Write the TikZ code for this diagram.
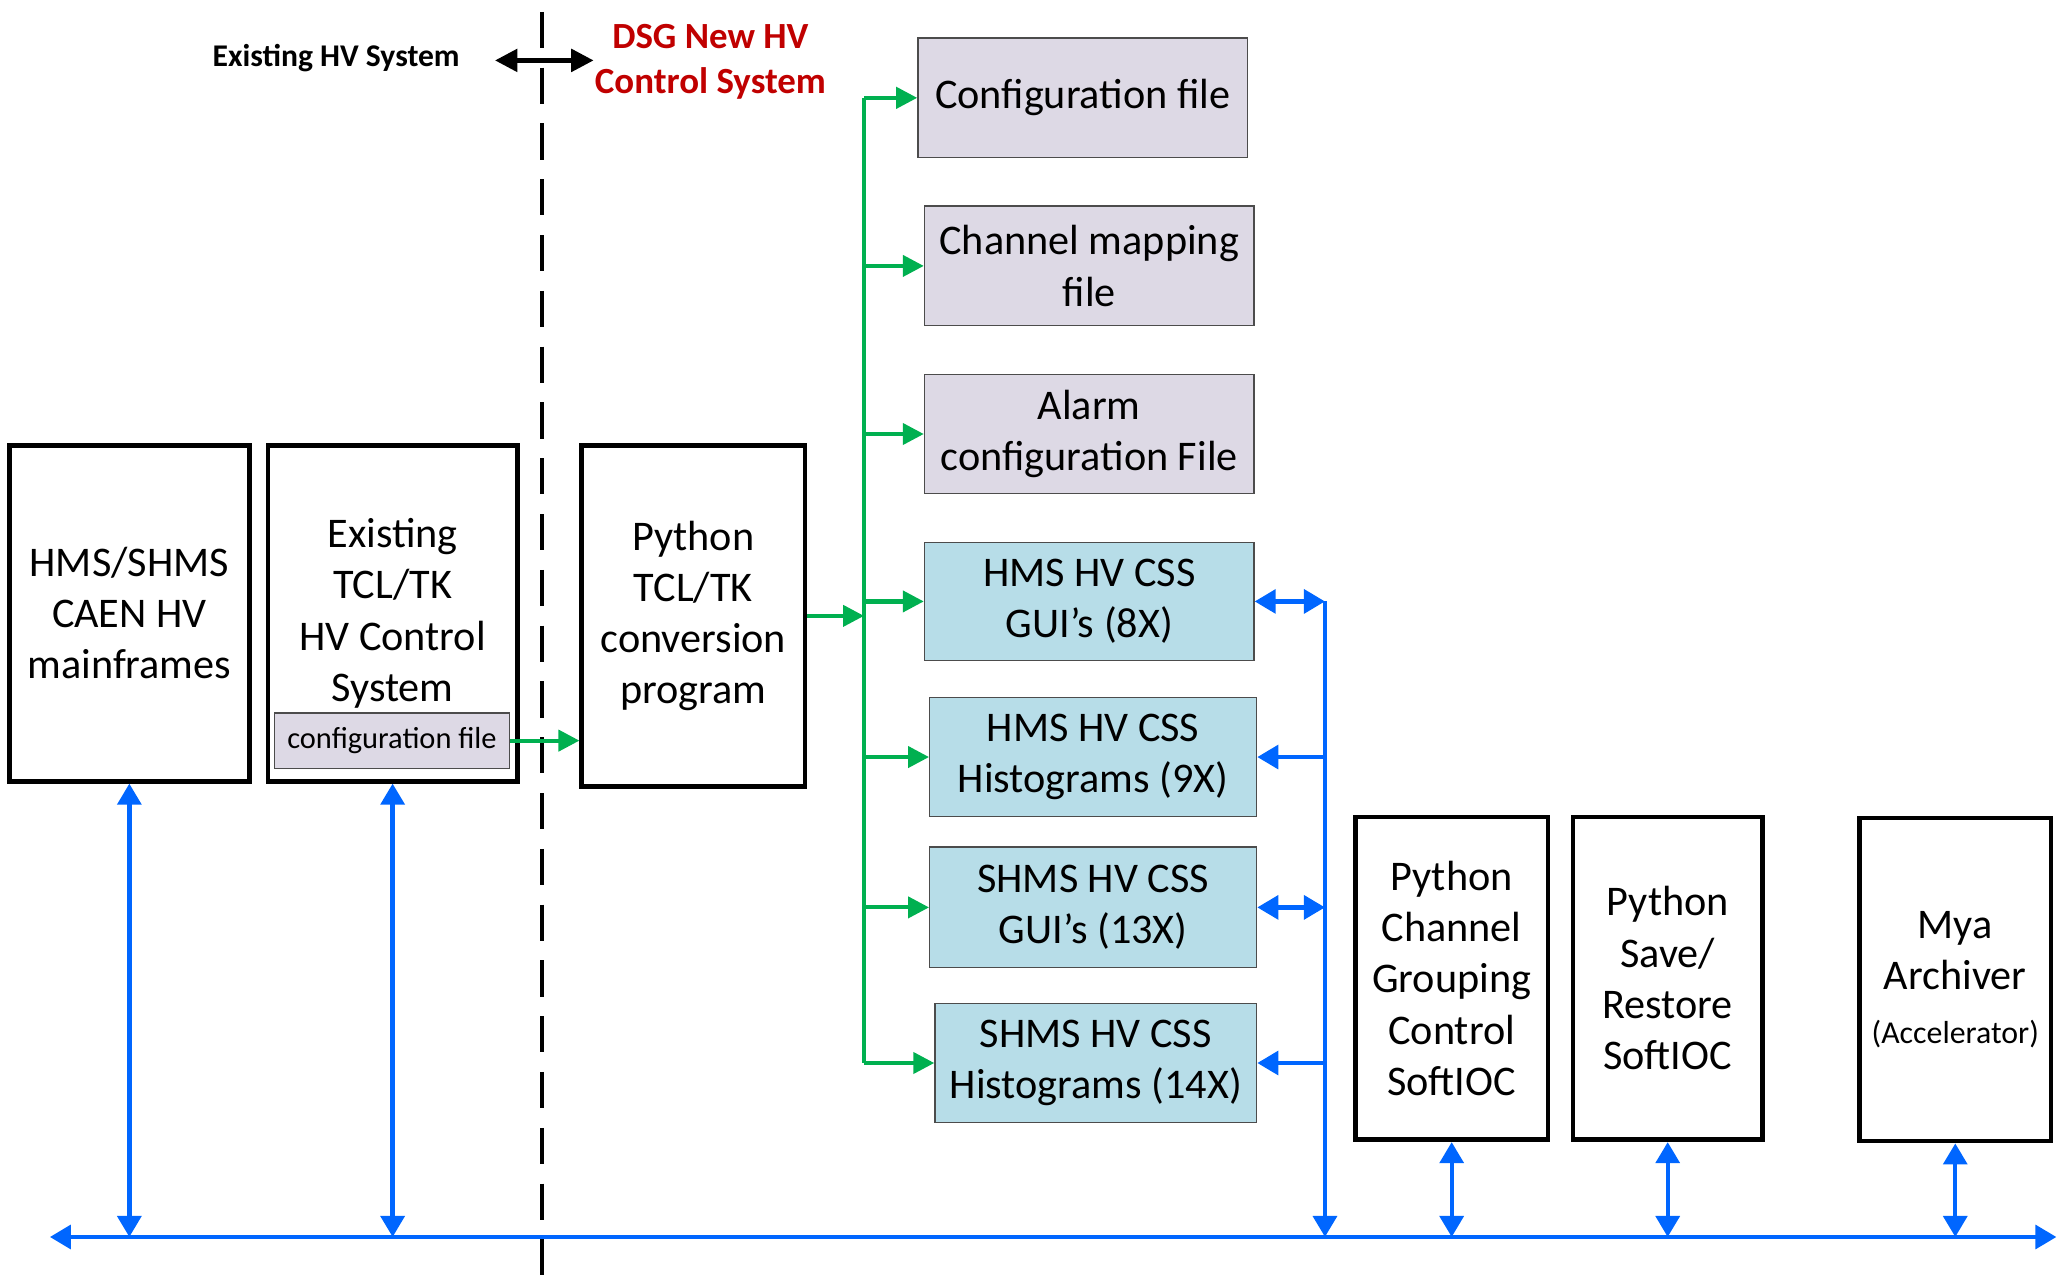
\documentclass[tikz,border=0pt]{standalone}
\usepackage{fontspec}
\setmainfont{Carlito}
\usetikzlibrary{arrows.meta}
\definecolor{filegray}{HTML}{DDD9E5}
\definecolor{cssblue}{HTML}{B7DDE8}
\definecolor{busblue}{HTML}{0066FF}
\definecolor{feedgreen}{HTML}{00B050}
\definecolor{dsgred}{HTML}{C00000}
\tikzset{
  sysbox/.style={draw, line width=2pt, align=center, inner sep=0pt},
  filebox/.style={draw=black!70, line width=0.6pt, fill=filegray, align=center, inner sep=0pt},
  cssbox/.style={filebox, fill=cssblue},
  feed/.style={feedgreen, line width=1.8pt, -{Triangle[length=0.32cm,width=0.32cm]}},
  busline/.style={busblue, line width=1.9pt},
  bustip/.style={busline, -{Triangle[length=0.32cm,width=0.36cm]}},
  bustips/.style={busline, {Triangle[length=0.32cm,width=0.36cm]}-{Triangle[length=0.32cm,width=0.36cm]}},
}
\begin{document}
\begin{tikzpicture}[x=0.02cm, y=-0.02cm,
    every node/.style={font=\fontsize{18.3}{22.2}\selectfont}]
      \useasboundingbox (0,0) rectangle (1568,975);
      \node[sysbox, minimum width=3.66cm, minimum height=5.12cm] (mainframe) at (98.5,467) {HMS/SHMS\\CAEN HV\\mainframes};
      \node[sysbox, minimum width=3.8cm, minimum height=5.12cm] (tcltk) at (299,467) {Existing\\TCL/TK\\HV Control\\System};
      \node[filebox, minimum width=3.58cm, minimum height=0.84cm, font=\fontsize{13.2}{16}\selectfont] (cfgold) at (298.5,564) {configuration file};
      \node[sysbox, minimum width=3.4cm, minimum height=5.2cm] (pyconv) at (528,469) {Python\\TCL/TK\\conversion\\program};
      \node[filebox, minimum width=5.02cm, minimum height=1.82cm] (cfgfile) at (824.5,74.5) {Configuration file};
      \node[filebox, minimum width=5.02cm, minimum height=1.82cm] (chmap) at (829.5,202.5) {Channel mapping\\file};
      \node[filebox, minimum width=5.02cm, minimum height=1.82cm] (alarm) at (829.5,330.5) {Alarm\\configuration File};
      \node[cssbox, minimum width=5.02cm, minimum height=1.8cm] (hmsgui) at (829.5,458) {HMS HV CSS\\GUI’s (8X)};
      \node[cssbox, minimum width=4.98cm, minimum height=1.82cm] (hmshist) at (832.5,576.5) {HMS HV CSS\\Histograms (9X)};
      \node[cssbox, minimum width=4.98cm, minimum height=1.84cm] (shmsgui) at (832.5,691) {SHMS HV CSS\\GUI’s (13X)};
      \node[cssbox, minimum width=4.9cm, minimum height=1.82cm] (shmshist) at (834.5,809.5) {SHMS HV CSS\\Histograms (14X)};
      \node[sysbox, minimum width=2.94cm, minimum height=4.92cm] (pygroup) at (1105.5,745) {Python\\Channel\\Grouping\\Control\\SoftIOC};
      \node[sysbox, minimum width=2.88cm, minimum height=4.92cm] (pysave) at (1270,745) {Python\\Save/\\Restore\\SoftIOC};
      \node[sysbox, minimum width=2.92cm, minimum height=4.92cm] (mya) at (1489,746) {Mya\\Archiver\\[1pt]{\fontsize{13.8}{16}\selectfont(Accelerator)}};
      \node[font=\fontsize{13.7}{16}\selectfont\bfseries] (oldsys) at (256,44) {Existing HV System};
      \node[font=\fontsize{16}{19.3}\selectfont\bfseries, text=dsgred, align=center] (newsys) at (541,47) {DSG New HV\\Control System};
      \coordinate (divtop) at (413,9);
      \coordinate (divbot) at (413,975);
      \coordinate (sideL) at (377,46);
      \coordinate (sideR) at (452,46);
      \coordinate (gbus) at (658,0);
      \coordinate (bbus) at (1009,0);
      \coordinate (busL) at (38,942);
      \coordinate (busR) at (1566,942);
      \draw[line width=1.7pt, dash pattern=on 0.55cm off 0.3cm] (divtop) -- (divbot);
      \draw[line width=1.9pt, {Triangle[length=0.34cm,width=0.34cm]}-{Triangle[length=0.34cm,width=0.34cm]}] (sideL) -- (sideR);
      \begin{scope}[feed]
        \draw (cfgold.east) to (cfgold.east -| pyconv.west);
        \draw (pyconv.east) to (pyconv.east -| gbus);
        \draw[-] (cfgfile.west -| gbus) to (shmshist.west -| gbus);
        \draw (cfgfile.west -| gbus) to (cfgfile.west);
        \draw (chmap.west -| gbus) to (chmap.west);
        \draw (alarm.west -| gbus) to (alarm.west);
        \draw (hmsgui.west -| gbus) to (hmsgui.west);
        \draw (hmshist.west -| gbus) to (hmshist.west);
        \draw (shmsgui.west -| gbus) to (shmsgui.west);
        \draw (shmshist.west -| gbus) to (shmshist.west);
      \end{scope}
      \begin{scope}[busline]
        \draw[bustips] (busL) to (busR);
        \draw[bustip] (hmsgui.east -| bbus) to (bbus |- busL);
        \draw[bustips] (hmsgui.east) to (hmsgui.east -| bbus);
        \draw[bustip] (hmshist.east -| bbus) to (hmshist.east);
        \draw[bustips] (shmsgui.east) to (shmsgui.east -| bbus);
        \draw[bustip] (shmshist.east -| bbus) to (shmshist.east);
        \draw[bustips] (mainframe.south) to (mainframe.south |- busL);
        \draw[bustips] (tcltk.south) to (tcltk.south |- busL);
        \draw[bustips] (pygroup.south) to (pygroup.south |- busL);
        \draw[bustips] (pysave.south) to (pysave.south |- busL);
        \draw[bustips] (mya.south) to (mya.south |- busL);
      \end{scope}
    \end{tikzpicture}
\end{document}
